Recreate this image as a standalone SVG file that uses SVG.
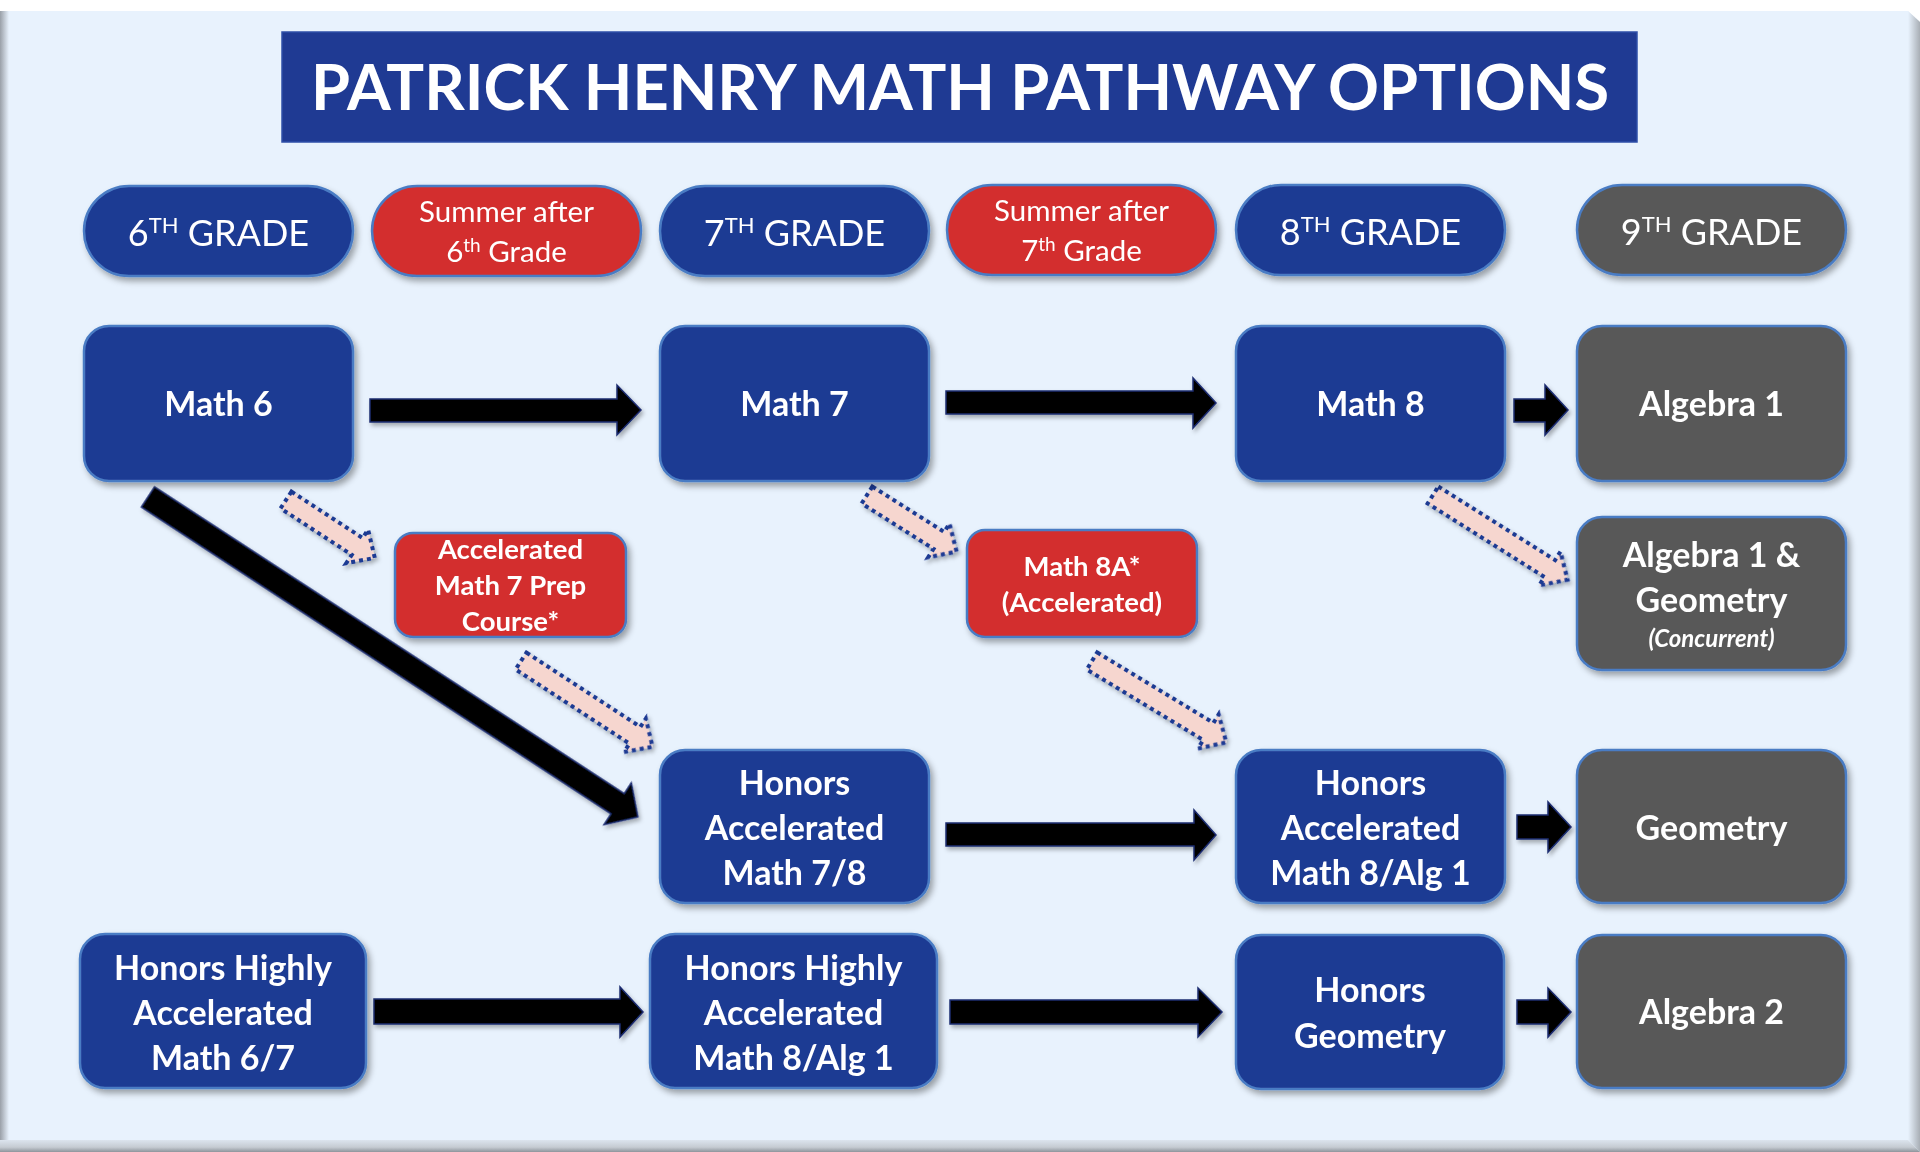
<svg xmlns="http://www.w3.org/2000/svg" width="1920" height="1152" viewBox="0 0 1920 1152">
<style>
.navy{fill:#1F3A93;stroke:#4A7CC4;stroke-width:2.5}
.red{fill:#D32F2F;stroke:#4A7CC4;stroke-width:2.5}
.gray{fill:#595959;stroke:#4A7CC4;stroke-width:2.5}
.t{font-family:Lato,"Open Sans","Liberation Sans",sans-serif;fill:#FFFFFF;text-anchor:middle}
.b{font-weight:bold;font-size:34px}
.s{font-weight:bold;font-size:27.5px}
.p{font-weight:normal;font-size:36px}
.sm{font-weight:normal;font-size:29.5px}
.blk{fill:#000000;stroke:#1B2C70;stroke-width:1.5;stroke-linejoin:miter}
.dot{fill:#F6D6CF;stroke:#1F3A93;stroke-width:4;stroke-dasharray:4 4}
</style>
<defs>
<filter id="sh" x="-10%" y="-10%" width="125%" height="130%">
<feDropShadow dx="3" dy="4" stdDeviation="3" flood-color="#000000" flood-opacity="0.35"/>
</filter>
<filter id="sha" x="-10%" y="-30%" width="125%" height="170%">
<feDropShadow dx="2" dy="3" stdDeviation="2" flood-color="#000000" flood-opacity="0.3"/>
</filter>
<linearGradient id="lg" x1="0" x2="1" y1="0" y2="0">
<stop offset="0" stop-color="#9AA0A8"/><stop offset="1" stop-color="#E8F2FD"/>
</linearGradient>
<linearGradient id="bg" x1="0" x2="0" y1="0" y2="1">
<stop offset="0" stop-color="#DCE4EE"/><stop offset="0.6" stop-color="#C5CBD2"/><stop offset="1" stop-color="#8E949B"/>
</linearGradient>
<linearGradient id="rg" x1="0" x2="1" y1="0" y2="0">
<stop offset="0" stop-color="#E8F2FD"/><stop offset="1" stop-color="#A8AEB5"/>
</linearGradient>
</defs>

<!-- slide background -->
<rect x="0" y="0" width="1920" height="1152" fill="#FFFFFF"/>
<polygon points="0,11 1908,11 1920,22 1920,1152 0,1152" fill="#E8F2FD"/>
<rect x="0" y="11" width="9" height="1141" fill="url(#lg)"/>
<polygon points="1908,11 1920,22 1920,1152 1908,1140" fill="url(#rg)"/>
<polygon points="0,1140 1908,1140 1920,1152 0,1152" fill="url(#bg)"/>

<g id="title">
<rect x="282" y="32" width="1355" height="110" fill="#1F3A93" stroke="#2E4FA8" stroke-width="1.5"/>
<text class="t" x="960" y="110" font-size="64" font-weight="bold" textLength="1298" lengthAdjust="spacingAndGlyphs">PATRICK HENRY MATH PATHWAY OPTIONS</text>
</g>

<!-- header pills -->
<g id="h6" filter="url(#sh)">
<rect class="navy" x="84" y="186" width="269" height="90" rx="45"/>
<text class="t p" x="218.5" y="245.5">6<tspan font-size="22" dy="-12.5">TH</tspan><tspan dy="12.5"> GRADE</tspan></text>
</g>
<g id="s6" filter="url(#sh)">
<rect class="red" x="372" y="186" width="269" height="90" rx="45"/>
<text class="t sm" x="506.5" y="222">Summer after</text>
<text class="t sm" x="506.5" y="262">6<tspan font-size="19" dy="-10">th</tspan><tspan dy="10"> Grade</tspan></text>
</g>
<g id="h7" filter="url(#sh)">
<rect class="navy" x="660" y="186" width="269" height="90" rx="45"/>
<text class="t p" x="794.5" y="245.5">7<tspan font-size="22" dy="-12.5">TH</tspan><tspan dy="12.5"> GRADE</tspan></text>
</g>
<g id="s7" filter="url(#sh)">
<rect class="red" x="947" y="185" width="269" height="90" rx="45"/>
<text class="t sm" x="1081.5" y="221">Summer after</text>
<text class="t sm" x="1081.5" y="261">7<tspan font-size="19" dy="-10">th</tspan><tspan dy="10"> Grade</tspan></text>
</g>
<g id="h8" filter="url(#sh)">
<rect class="navy" x="1236" y="185" width="269" height="90" rx="45"/>
<text class="t p" x="1370.5" y="244.5">8<tspan font-size="22" dy="-12.5">TH</tspan><tspan dy="12.5"> GRADE</tspan></text>
</g>
<g id="h9" filter="url(#sh)">
<rect class="gray" x="1577" y="185" width="269" height="90" rx="45"/>
<text class="t p" x="1711.5" y="244.5">9<tspan font-size="22" dy="-12.5">TH</tspan><tspan dy="12.5"> GRADE</tspan></text>
</g>

<!-- connectors -->
<g id="connectors">
<g filter="url(#sha)">
<polygon class="blk" points="370,399 617,399 617,385 641,410 617,435 617,422 370,422"/>
<polygon class="blk" points="946,391 1193,391 1193,378 1216,403 1193,428 1193,414 946,414"/>
<polygon class="blk" points="1514,399 1545,399 1545,385 1568,410 1545,435 1545,422 1514,422"/>
<polygon class="blk" transform="translate(148,497) rotate(33.15)" points="0,-12 561,-12 561,-25 585,0 561,25 561,12 0,12"/>
<polygon class="blk" points="946,823 1194,823 1194,810 1216,835 1194,860 1194,846 946,846"/>
<polygon class="blk" points="1517,815 1548,815 1548,802 1571,827 1548,852 1548,839 1517,839"/>
<polygon class="blk" points="374,999 620,999 620,987 643,1012 620,1037 620,1024 374,1024"/>
<polygon class="blk" points="950,1000 1198,1000 1198,988 1222,1012 1198,1037 1198,1024 950,1024"/>
<polygon class="blk" points="1517,1000 1548,1000 1548,988 1571,1012 1548,1037 1548,1024 1517,1024"/>
</g>
<g filter="url(#sha)">
<polygon class="dot" transform="translate(286,500) rotate(33.1)" points="0,-10 85,-10 85,-20 106,0 85,20 85,10 0,10"/>
<polygon class="dot" transform="translate(521,661) rotate(33.1)" points="0,-10 136,-10 136,-20 157,0 136,20 136,10 0,10"/>
<polygon class="dot" transform="translate(867,495) rotate(32.3)" points="0,-10 85,-10 85,-20 106,0 85,20 85,10 0,10"/>
<polygon class="dot" transform="translate(1092,661) rotate(31.2)" points="0,-10 136,-10 136,-20 157,0 136,20 136,10 0,10"/>
<polygon class="dot" transform="translate(1433,495) rotate(32.2)" points="0,-10 138,-10 138,-20 159,0 138,20 138,10 0,10"/>
</g>
</g>

<!-- row 1 -->
<g id="math6" filter="url(#sh)">
<rect class="navy" x="84" y="326" width="269" height="155" rx="25"/>
<text class="t b" x="218.5" y="416">Math 6</text>
</g>
<g id="math7" filter="url(#sh)">
<rect class="navy" x="660" y="326" width="269" height="155" rx="25"/>
<text class="t b" x="794.5" y="416">Math 7</text>
</g>
<g id="math8" filter="url(#sh)">
<rect class="navy" x="1236" y="326" width="269" height="155" rx="25"/>
<text class="t b" x="1370.5" y="416">Math 8</text>
</g>
<g id="alg1" filter="url(#sh)">
<rect class="gray" x="1577" y="326" width="269" height="155" rx="25"/>
<text class="t b" x="1711.5" y="416">Algebra 1</text>
</g>

<!-- row 2 -->
<g id="prep" filter="url(#sh)">
<rect class="red" x="395" y="533" width="231" height="104" rx="18"/>
<text class="t s" x="510.5" y="559">Accelerated</text>
<text class="t s" x="510.5" y="595">Math 7 Prep</text>
<text class="t s" x="510.5" y="631">Course*</text>
</g>
<g id="math8a" filter="url(#sh)">
<rect class="red" x="967" y="530" width="230" height="107" rx="18"/>
<text class="t s" x="1082" y="576">Math 8A*</text>
<text class="t s" x="1082" y="612">(Accelerated)</text>
</g>
<g id="alg1geo" filter="url(#sh)">
<rect class="gray" x="1577" y="517" width="269" height="153" rx="25"/>
<text class="t" x="1711.5" y="567" font-size="34" font-weight="bold">Algebra 1 &amp;</text>
<text class="t" x="1711.5" y="612" font-size="34" font-weight="bold">Geometry</text>
<text class="t" x="1711.5" y="647" font-size="24" font-weight="bold" font-style="italic">(Concurrent)</text>
</g>

<!-- row 3 -->
<g id="ham78" filter="url(#sh)">
<rect class="navy" x="660" y="750" width="269" height="153" rx="25"/>
<text class="t b" x="794.5" y="795">Honors</text>
<text class="t b" x="794.5" y="840">Accelerated</text>
<text class="t b" x="794.5" y="885">Math 7/8</text>
</g>
<g id="ham8a1" filter="url(#sh)">
<rect class="navy" x="1236" y="750" width="269" height="153" rx="25"/>
<text class="t b" x="1370.5" y="795">Honors</text>
<text class="t b" x="1370.5" y="840">Accelerated</text>
<text class="t b" x="1370.5" y="885">Math 8/Alg 1</text>
</g>
<g id="geometry" filter="url(#sh)">
<rect class="gray" x="1577" y="750" width="269" height="153" rx="25"/>
<text class="t b" x="1711.5" y="840">Geometry</text>
</g>

<!-- row 4 -->
<g id="hham67" filter="url(#sh)">
<rect class="navy" x="80" y="934" width="286" height="154" rx="25"/>
<text class="t b" x="223" y="980">Honors Highly</text>
<text class="t b" x="223" y="1025">Accelerated</text>
<text class="t b" x="223" y="1070">Math 6/7</text>
</g>
<g id="hham8a1" filter="url(#sh)">
<rect class="navy" x="650" y="934" width="287" height="154" rx="25"/>
<text class="t b" x="793.5" y="980">Honors Highly</text>
<text class="t b" x="793.5" y="1025">Accelerated</text>
<text class="t b" x="793.5" y="1070">Math 8/Alg 1</text>
</g>
<g id="hgeo" filter="url(#sh)">
<rect class="navy" x="1236" y="935" width="268" height="154" rx="25"/>
<text class="t b" x="1370" y="1002">Honors</text>
<text class="t b" x="1370" y="1048">Geometry</text>
</g>
<g id="alg2" filter="url(#sh)">
<rect class="gray" x="1577" y="935" width="269" height="153" rx="25"/>
<text class="t b" x="1711.5" y="1024">Algebra 2</text>
</g>
</svg>
